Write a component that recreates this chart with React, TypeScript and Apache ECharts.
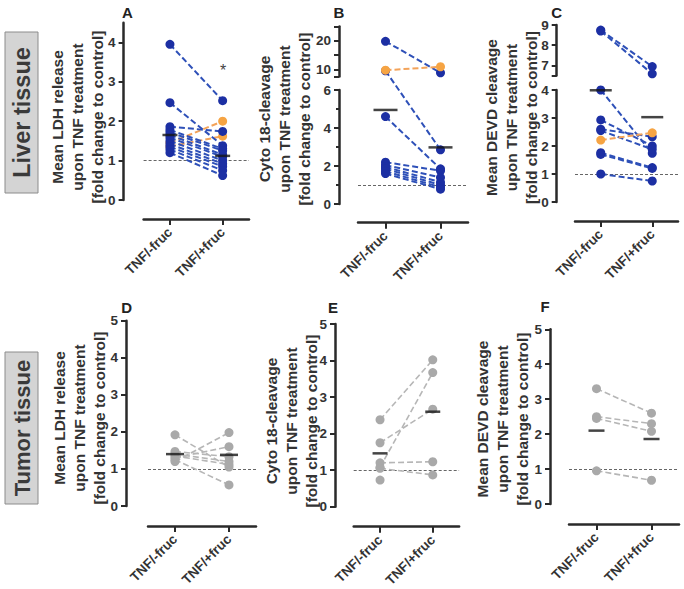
import React, { useEffect, useRef } from 'react';
import * as echarts from 'echarts';

const categories = ['TNF/-fruc', 'TNF/+fruc'];
const referenceLevel = 1;

// ---- Liver tissue ----
// A: Mean LDH release, pairs [TNF/-fruc, TNF/+fruc]
const liverLdhBlue: (number | null)[][] = [
  [3.95, 2.52], [2.47, 1.38], [1.86, 1.74], [1.78, 1.3], [1.72, 1.25], [1.65, 1.15],
  [1.58, 1.1], [1.5, 1.0], [1.42, 0.92], [1.35, 0.85], [1.28, 0.75], [1.2, 0.62],
];
const liverLdhOrange: (number | null)[][] = [[1.45, 2.0], [1.36, 1.62]];
const liverLdhMean = [1.65, 1.12];
const liverLdhLabels = [0, 1, 2, 3, 4];

// B: Cyto 18-cleavage (broken axis)
const liverCytoBlue: (number | null)[][] = [
  [19.8, 8.8], [9.5, 2.85], [4.6, 1.85], [2.2, 1.75], [2.05, 1.4], [1.95, 1.15],
  [1.85, 1.0], [1.72, 0.88], [1.6, 0.78],
];
const liverCytoOrange: (number | null)[][] = [[9.7, 10.9]];
const liverCytoMean = [4.95, 2.98];
const liverCytoLabelsLow = [0, 2, 4, 6];
const liverCytoLabelsHigh = [10, 20];
const liverCytoTicksHigh = [7.5, 10, 15, 20, 25];

// C: Mean DEVD cleavage (broken axis)
const liverDevdBlue: (number | null)[][] = [
  [8.75, 6.94], [8.7, 6.58], [4.0, 1.74], [2.93, 2.0], [2.6, 2.33], [2.55, 1.88],
  [1.76, 1.23], [1.7, 1.2], [1.0, 0.75],
];
const liverDevdOrange: (number | null)[][] = [[2.21, 2.47]];
const liverDevdMean = [3.99, 3.03];
const liverDevdLabelsLow = [0, 1, 2, 3, 4];
const liverDevdLabelsHigh = [7, 8, 9];
const liverDevdTicksHigh = [6.5, 7, 8, 9];

// ---- Tumor tissue ----
const tumorLdhGray: (number | null)[][] = [
  [1.92, 1.05], [1.2, 1.98], [1.3, 1.6], [1.47, 1.33], [1.4, 1.2], [1.35, 1.12], [1.25, 0.57],
];
const tumorLdhMean = [1.4, 1.38];
const tumorCytoGray: (number | null)[][] = [
  [2.38, 4.02], [1.75, 2.67], [1.08, 3.67], [1.2, 1.23], [1.05, 0.87], [0.73, null],
];
const tumorCytoMean = [1.46, 2.6];
const tumorDevdGray: (number | null)[][] = [[3.3, 2.6], [2.5, 2.3], [2.45, 2.08], [0.95, 0.68]];
const tumorDevdMean = [2.1, 1.86];
const tumorLabels = [0, 1, 2, 3, 4, 5];

const titleLdh = 'Mean LDH release\nupon TNF treatment\n[fold change to control]';
const titleCyto = 'Cyto 18-cleavage\nupon TNF treatment\n[fold change to control]';
const titleDevd = 'Mean DEVD cleavage\nupon TNF treatment\n[fold change to control]';

const FONT = '"Liberation Sans", Arial, Helvetica, sans-serif';
const AXIS = '#2a2a2a';
const TXT = '#333333';
const BLUE = { dot: '#1c2fa3', line: '#2e50b8' };
const ORANGE = { dot: '#f6a443', line: '#f3a35a' };
const GRAY = { dot: '#a9a9a9', line: '#b6b6b6' };

interface Seg { min: number; max: number; px0: number; px1: number; labels: number[]; ticks?: number[]; interval?: number; minor?: boolean }
interface Group { data: (number | null)[][]; col: { dot: string; line: string }; z: number; width: number }
interface Panel {
  letter: string; letterX: number; letterY: number;
  left: number; width: number; top: number; bottom: number; yOffset: number; xOffset: number;
  yMax?: number; labels?: number[]; segs?: Seg[];
  groups: Group[]; mean: number[]; meanWidth: number;
  title: string; titleX: number; titleY: number;
}

const panels: Panel[] = [
  {
    letter: 'A', letterX: 127.5, letterY: 12,
    left: 143.6, width: 105.4, top: 22.7, bottom: 200, yOffset: 20, xOffset: 19,
    yMax: 4.5, labels: liverLdhLabels,
    groups: [
      { data: liverLdhOrange, col: ORANGE, z: 2, width: 2 },
      { data: liverLdhBlue, col: BLUE, z: 3, width: 2 },
    ],
    mean: liverLdhMean, meanWidth: 15, title: titleLdh, titleX: 77, titleY: 117,
  },
  {
    letter: 'B', letterX: 339, letterY: 12,
    left: 358, width: 110, top: 26.4, bottom: 204, yOffset: 19, xOffset: 18.7,
    segs: [
      { min: 0, max: 6, px0: 0, px1: 114, labels: liverCytoLabelsLow, interval: 2, minor: true },
      { min: 7.5, max: 25, px0: 127.5, px1: 177.6, labels: liverCytoLabelsHigh, ticks: liverCytoTicksHigh },
    ],
    groups: [
      { data: liverCytoBlue, col: BLUE, z: 2, width: 2 },
      { data: liverCytoOrange, col: ORANGE, z: 3, width: 2 },
    ],
    mean: liverCytoMean, meanWidth: 24, title: titleCyto, titleX: 284, titleY: 119,
  },
  {
    letter: 'C', letterX: 556.7, letterY: 12,
    left: 575, width: 103, top: 25, bottom: 202, yOffset: 18.3, xOffset: 19,
    segs: [
      { min: 0, max: 4, px0: 0, px1: 112, labels: liverDevdLabelsLow, interval: 1 },
      { min: 6.5, max: 9, px0: 126.6, px1: 177, labels: liverDevdLabelsHigh, ticks: liverDevdTicksHigh },
    ],
    groups: [
      { data: liverDevdBlue, col: BLUE, z: 2, width: 2 },
      { data: liverDevdOrange, col: ORANGE, z: 3, width: 2 },
    ],
    mean: liverDevdMean, meanWidth: 22, title: titleDevd, titleX: 511, titleY: 117.5,
  },
  {
    letter: 'D', letterX: 126.7, letterY: 307,
    left: 148, width: 108, top: 320.7, bottom: 506, yOffset: 22, xOffset: 20,
    yMax: 5, labels: tumorLabels,
    groups: [{ data: tumorLdhGray, col: GRAY, z: 2, width: 1.6 }],
    mean: tumorLdhMean, meanWidth: 18, title: titleLdh, titleX: 79, titleY: 418,
  },
  {
    letter: 'E', letterX: 333, letterY: 307,
    left: 353.7, width: 105.4, top: 324, bottom: 506.7, yOffset: 18.7, xOffset: 20,
    yMax: 5, labels: tumorLabels,
    groups: [{ data: tumorCytoGray, col: GRAY, z: 2, width: 1.6 }],
    mean: tumorCytoMean, meanWidth: 15, title: titleCyto, titleX: 291, titleY: 421,
  },
  {
    letter: 'F', letterX: 545, letterY: 306.7,
    left: 569, width: 110, top: 329.3, bottom: 504, yOffset: 19, xOffset: 20,
    yMax: 5, labels: tumorLabels,
    groups: [{ data: tumorDevdGray, col: GRAY, z: 2, width: 1.6 }],
    mean: tumorDevdMean, meanWidth: 16, title: titleDevd, titleX: 502, titleY: 419,
  },
];

function segTransform(segs: Seg[]) {
  return (v: number | null) => {
    if (v === null || v === undefined) return null;
    let best = segs[0];
    for (const s of segs) if (v >= s.min) best = s;
    return best.px0 + ((v - best.min) / (best.max - best.min)) * (best.px1 - best.px0);
  };
}

const labelStyle = { color: TXT, fontFamily: FONT, fontWeight: 'bold' as const, fontSize: 13.5 };

function yAxisBase(gridIndex: number, offset: number) {
  return {
    type: 'value',
    gridIndex,
    offset,
    axisLine: { show: true, onZero: false, lineStyle: { color: AXIS, width: 2.5 } },
    axisTick: { show: true, length: 5, lineStyle: { color: AXIS, width: 2 } },
    axisLabel: { margin: 8, ...labelStyle },
    splitLine: { show: false },
  };
}

function buildOption() {
  const grid: any[] = [];
  const xAxis: any[] = [];
  const yAxis: any[] = [];
  const series: any[] = [];
  const graphic: any[] = [];

  panels.forEach((p) => {
    const gi = grid.length;
    const xi = xAxis.length;
    const yi = yAxis.length;
    grid.push({ left: p.left, top: p.top, width: p.width, height: p.bottom - p.top, outerBoundsMode: 'none' });
    xAxis.push({
      type: 'category', gridIndex: gi, data: categories, offset: p.xOffset,
      axisLine: { show: true, onZero: false, lineStyle: { color: AXIS, width: 2.5 } },
      axisTick: { show: true, alignWithLabel: true, length: 6, lineStyle: { color: AXIS, width: 2 } },
      axisLabel: { rotate: 45, margin: 11, ...labelStyle, fontSize: 13.5 },
      splitLine: { show: false },
    });
    const tf = p.segs ? segTransform(p.segs) : (v: number | null) => v;
    if (p.segs) {
      yAxis.push({ type: 'value', gridIndex: gi, min: 0, max: p.bottom - p.top, show: false });
    } else {
      yAxis.push({
        ...yAxisBase(gi, p.yOffset), min: 0, max: p.yMax, interval: 1,
        axisTick: { show: true, length: 5, lineStyle: { color: AXIS, width: 2 }, customValues: p.labels },
        axisLabel: { margin: 8, ...labelStyle, customValues: p.labels },
      });
    }

    p.groups.forEach((g) => {
      g.data.forEach((pair) => {
        series.push({
          type: 'line', xAxisIndex: xi, yAxisIndex: yi, data: pair.map(tf),
          symbol: 'circle', symbolSize: 9, showSymbol: true, clip: false, silent: true,
          itemStyle: { color: g.col.dot },
          lineStyle: { color: g.col.line, width: g.width, type: [6, 3] },
          emphasis: { disabled: true }, z: g.z,
        });
      });
    });

    series.push({
      type: 'scatter', xAxisIndex: xi, yAxisIndex: yi, data: p.mean.map(tf),
      symbol: 'rect', symbolSize: [p.meanWidth, 2.5], itemStyle: { color: '#151515' },
      silent: true, z: 10, clip: false,
      markLine: {
        silent: true, symbol: 'none', label: { show: false },
        lineStyle: { color: '#666', type: [3, 2], width: 1 },
        data: [{ yAxis: tf(referenceLevel) }], z: 1,
      },
    });

    if (p.segs) {
      p.segs.forEach((s) => {
        const g = grid.length;
        grid.push({ left: p.left, width: p.width, top: p.bottom - s.px1, height: s.px1 - s.px0, outerBoundsMode: 'none' });
        xAxis.push({ type: 'category', gridIndex: g, data: categories, show: false });
        const ax: any = { ...yAxisBase(g, p.yOffset), min: s.min, max: s.max };
        if (s.interval) {
          ax.interval = s.interval;
          if (s.minor) ax.minorTick = { show: true, splitNumber: 2, length: 3, lineStyle: { color: AXIS, width: 2 } };
        } else {
          ax.axisTick = { show: true, length: 5, lineStyle: { color: AXIS, width: 2 }, customValues: s.ticks };
          ax.axisLabel = { margin: 8, ...labelStyle, customValues: s.labels };
        }
        yAxis.push(ax);
      });
    }

    graphic.push({
      type: 'text', x: p.titleX, y: p.titleY, rotation: Math.PI / 2, silent: true,
      style: {
        text: p.title, fill: TXT, font: `bold 15.5px ${FONT}`, lineHeight: 20,
        align: 'center', verticalAlign: 'middle', textAlign: 'center', textVerticalAlign: 'middle',
      },
    });
    graphic.push({
      type: 'text', x: p.letterX, y: p.letterY, silent: true,
      style: {
        text: p.letter, fill: '#222', font: `bold 15px ${FONT}`,
        align: 'center', verticalAlign: 'middle', textAlign: 'center', textVerticalAlign: 'middle',
      },
    });
  });

  // tissue side labels
  const tissue = [
    { text: 'Liver tissue', y0: 32, y1: 193, size: 23.5 },
    { text: 'Tumor tissue', y0: 352, y1: 504, size: 22 },
  ];
  tissue.forEach((t) => {
    graphic.push({
      type: 'rect', silent: true,
      shape: { x: 5, y: t.y0, width: 33, height: t.y1 - t.y0 },
      style: { fill: '#d4d4d4', stroke: '#8c8c8c', lineWidth: 1 },
    });
    graphic.push({
      type: 'text', x: 22, y: (t.y0 + t.y1) / 2, rotation: Math.PI / 2, silent: true,
      style: {
        text: t.text, fill: '#3a3a3a', font: `bold ${t.size}px ${FONT}`,
        align: 'center', verticalAlign: 'middle', textAlign: 'center', textVerticalAlign: 'middle',
      },
    });
  });

  graphic.push({
    type: 'text', x: 223, y: 70, silent: true,
    style: { text: '*', fill: '#444', font: `16px ${FONT}`, align: 'center', verticalAlign: 'middle', textAlign: 'center', textVerticalAlign: 'middle' },
  });

  return { animation: false, backgroundColor: '#ffffff', grid, xAxis, yAxis, series, graphic };
}

export default function App() {
  const ref = useRef<HTMLDivElement>(null);
  useEffect(() => {
    if (!ref.current) return;
    const chart = echarts.init(ref.current, null, { renderer: 'svg' });
    chart.setOption(buildOption() as any);
    return () => chart.dispose();
  }, []);
  return (
    <div
      ref={ref}
      style={{ position: 'absolute', left: 0, top: 0, width: 684, height: 589, background: '#fff' }}
    />
  );
}
